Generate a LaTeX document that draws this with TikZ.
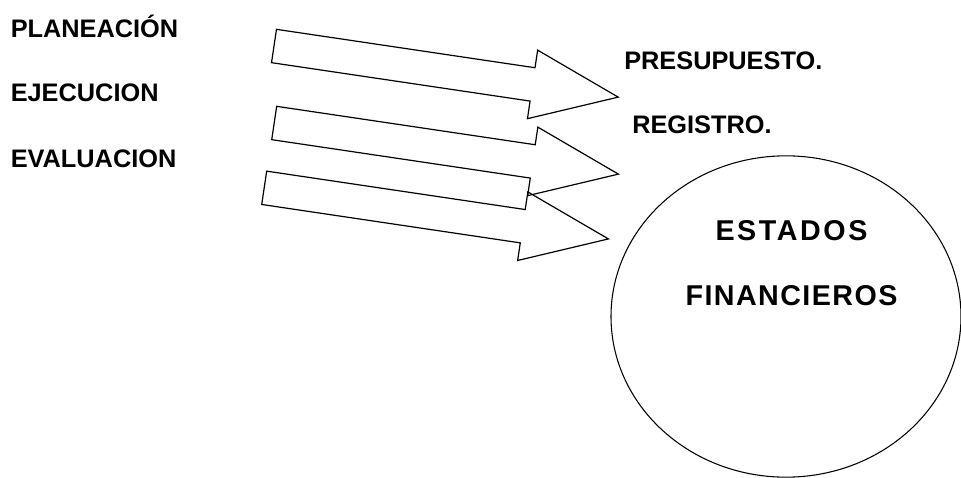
\documentclass[tikz,border=0pt]{standalone}
\usepackage{fontspec}
\setmainfont{Liberation Sans}
\usetikzlibrary{shapes.geometric}
\tikzset{
	etapa/.style={
		anchor=base west, inner sep=0pt,
		font=\fontsize{19}{23}\selectfont\bfseries
	},
	flecha/.style={
		draw=black, line width=0.9pt, line join=miter
	},
	estados/.style={
		draw=black, line width=0.8pt, ellipse, inner sep=0pt
	},
	estados titulo/.style={
		anchor=base, inner sep=0pt,
		font=\fontsize{21.5}{25}\selectfont\bfseries
	}
}

\begin{document}
\begin{tikzpicture}[x=0.75pt, y=0.75pt]
	\useasboundingbox (0,0) rectangle (961,-478);
	
	% etapas
	\node[etapa] (P) at (10.5,-38) {PLANEACIÓN};
	\node[etapa] (E) at (10.5,-102) {EJECUCION};
	\node[etapa] (V) at (10.5,-167) {EVALUACION};
	
	% flechas (cola en el origen, punta a 348px)
	\foreach \i/\x/\y in {1/274/46, 2/274.2/123, 3/264.2/187.8} {
		\begin{scope}[shift={(\x,-\y)}, rotate=-8.45]
			\draw[flecha] (0,16.85) -- (261.4,16.85) -- (261.4,34.65)
				-- (348,0) coordinate (F\i)
				-- (261.4,-34.65) -- (261.4,-16.85) -- (0,-16.85) -- cycle;
		\end{scope}
	}
	
	\node[etapa] (PRE) at (624,-70) {PRESUPUESTO.};
	\node[etapa] (REG) at (632,-133) {REGISTRO.};
	
	% estados financieros
	\node[estados, minimum width=262.5pt, minimum height=241pt] (EF) at (786,-316.5) {};
	\node[estados titulo] (EF1) at (791.5,-240)
		{\addfontfeatures{LetterSpace=9}ESTADOS};
	\node[estados titulo] (EF2) at (791.5,-305)
		{\addfontfeatures{LetterSpace=5}FINANCIEROS};
\end{tikzpicture}
\end{document}
